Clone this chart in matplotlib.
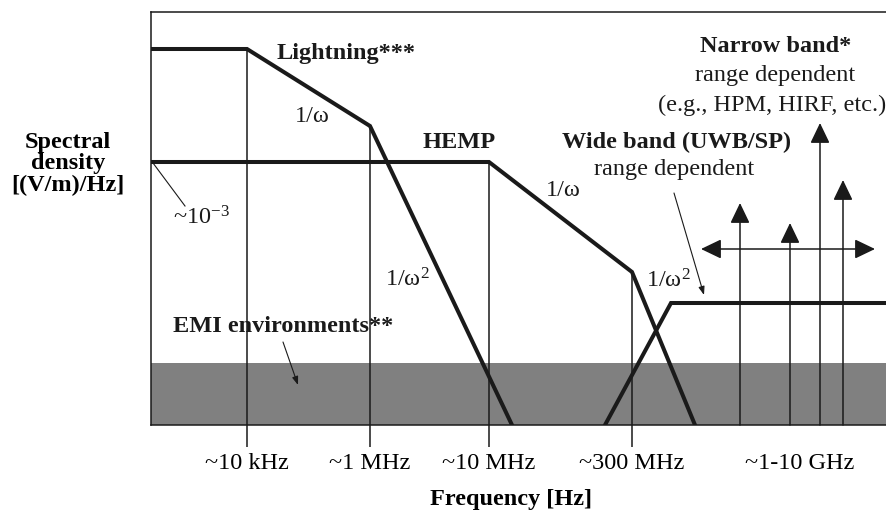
import matplotlib
matplotlib.use("Agg")
import matplotlib.pyplot as plt

plt.rcParams['font.family'] = ['Liberation Serif', 'DejaVu Serif']
plt.rcParams['mathtext.fontset'] = 'custom'
plt.rcParams['mathtext.rm'] = 'Liberation Serif'
plt.rcParams['mathtext.it'] = 'Liberation Serif'

# ---- schematic data (abstract units: x = frequency position, y = spectral level) ----
lightning_x = [0, 96, 219, 361]
lightning_y = [376, 376, 299, 0]
hemp_x = [0, 338, 481, 544]
hemp_y = [263, 263, 153, 0]
wideband_x = [454, 520, 739]
wideband_y = [0, 122, 122]
narrow_x = [589, 639, 669, 692]
narrow_top = [222, 202, 302, 245]
narrow_span = [550, 724]
narrow_span_level = 176
emi_level = 62
guide_x = [96, 219, 338, 481]
guide_top = [376, 299, 263, 153]
tick_pos = [96, 219, 338, 481, 649]
tick_labels = ['~10 kHz', '~1 MHz', '~10 MHz', '~300 MHz', '~1-10 GHz']

W, H = 887, 512
fig = plt.figure(figsize=(W / 100, H / 100), dpi=100)
left, right, top, bottom = 151, 890, 12, 425
ax = fig.add_axes([left / W, 1 - bottom / H, (right - left) / W, (bottom - top) / H])
ax.set_xlim(0, right - left)
ax.set_ylim(0, bottom - top)

dark = '#1a1a1a'
for s in ax.spines.values():
    s.set_linewidth(1.1)
    s.set_color(dark)

# EMI band
ax.axhspan(0, emi_level, color='#808080', zorder=1, lw=0)

# guide lines
ax.vlines(guide_x, 0, guide_top, color=dark, lw=1.1, zorder=2)

# curves
ax.plot(lightning_x, lightning_y, color=dark, lw=2.9, zorder=3, solid_joinstyle='miter')
ax.plot(hemp_x, hemp_y, color=dark, lw=2.9, zorder=3, solid_joinstyle='miter')
ax.plot(wideband_x, wideband_y, color=dark, lw=2.9, zorder=3, solid_joinstyle='miter')

# narrow band arrows
for xv, tv in zip(narrow_x, narrow_top):
    ax.annotate('', xy=(xv, tv), xytext=(xv, 0),
                arrowprops=dict(arrowstyle='-|>,head_length=1.25,head_width=0.6',
                                mutation_scale=10, color=dark, lw=1.1,
                                shrinkA=0, shrinkB=0), zorder=4)
ax.annotate('', xy=(narrow_span[1], narrow_span_level), xytext=(narrow_span[0], narrow_span_level),
            arrowprops=dict(arrowstyle='<|-|>,head_length=1.25,head_width=0.6',
                            mutation_scale=10, color=dark, lw=1.1,
                            shrinkA=0, shrinkB=0), zorder=4)

fs = 17.5

# ticks
ax.set_xticks(tick_pos)
ax.set_xticklabels(tick_labels, fontsize=fs)
ax.tick_params(axis='x', direction='out', length=16, width=1.1, pad=4, color=dark)
ax.xaxis.get_major_ticks()[-1].tick1line.set_visible(False)
ax.set_yticks([])

ax.set_xlabel('Frequency [Hz]', fontsize=fs, fontweight='bold', va='top')
ax.xaxis.set_label_coords((511 - left) / (right - left), (bottom - 489) / (bottom - top))
ax.set_ylabel('Spectral\ndensity\n[(V/m)/Hz]', fontsize=fs, fontweight='bold',
              rotation=0, ha='center', va='center', linespacing=1.05)
ax.yaxis.set_label_coords((68 - left) / (right - left), (bottom - 164) / (bottom - top))

def txt(x, y, s, bold=False, size=fs):
    ax.text(x, y, s, ha='center', va='center', fontsize=size,
            fontweight='bold' if bold else 'normal', color=dark, zorder=5)

txt(195, 372, 'Lightning***', bold=True)
txt(161, 309, '1/ω')
txt(308, 283, 'HEMP', bold=True)
txt(412, 234, '1/ω')
txt(526, 283, 'Wide band (UWB/SP)', bold=True)
txt(523, 256, 'range dependent')
txt(625, 378, 'Narrow band*', bold=True)
txt(624, 349, 'range dependent')
txt(621, 320, '(e.g., HPM, HIRF, etc.)')
txt(517, 144, '1/ω$^{2}$')
txt(256, 145, '1/ω$^{2}$')
txt(50, 207, '~10$^{-3}$')
txt(132, 99, 'EMI environments**', bold=True)

ax.plot([2, 34], [262, 219], color=dark, lw=0.8, zorder=4)
ax.annotate('', xy=(147, 40), xytext=(132, 83),
            arrowprops=dict(arrowstyle='-|>,head_length=0.5,head_width=0.18',
                            mutation_scale=10, color=dark, lw=0.8, shrinkA=0, shrinkB=0), zorder=4)
ax.annotate('', xy=(553, 130), xytext=(523, 232),
            arrowprops=dict(arrowstyle='-|>,head_length=0.5,head_width=0.18',
                            mutation_scale=10, color=dark, lw=0.8, shrinkA=0, shrinkB=0), zorder=4)

fig.savefig('out.png', dpi=100)
